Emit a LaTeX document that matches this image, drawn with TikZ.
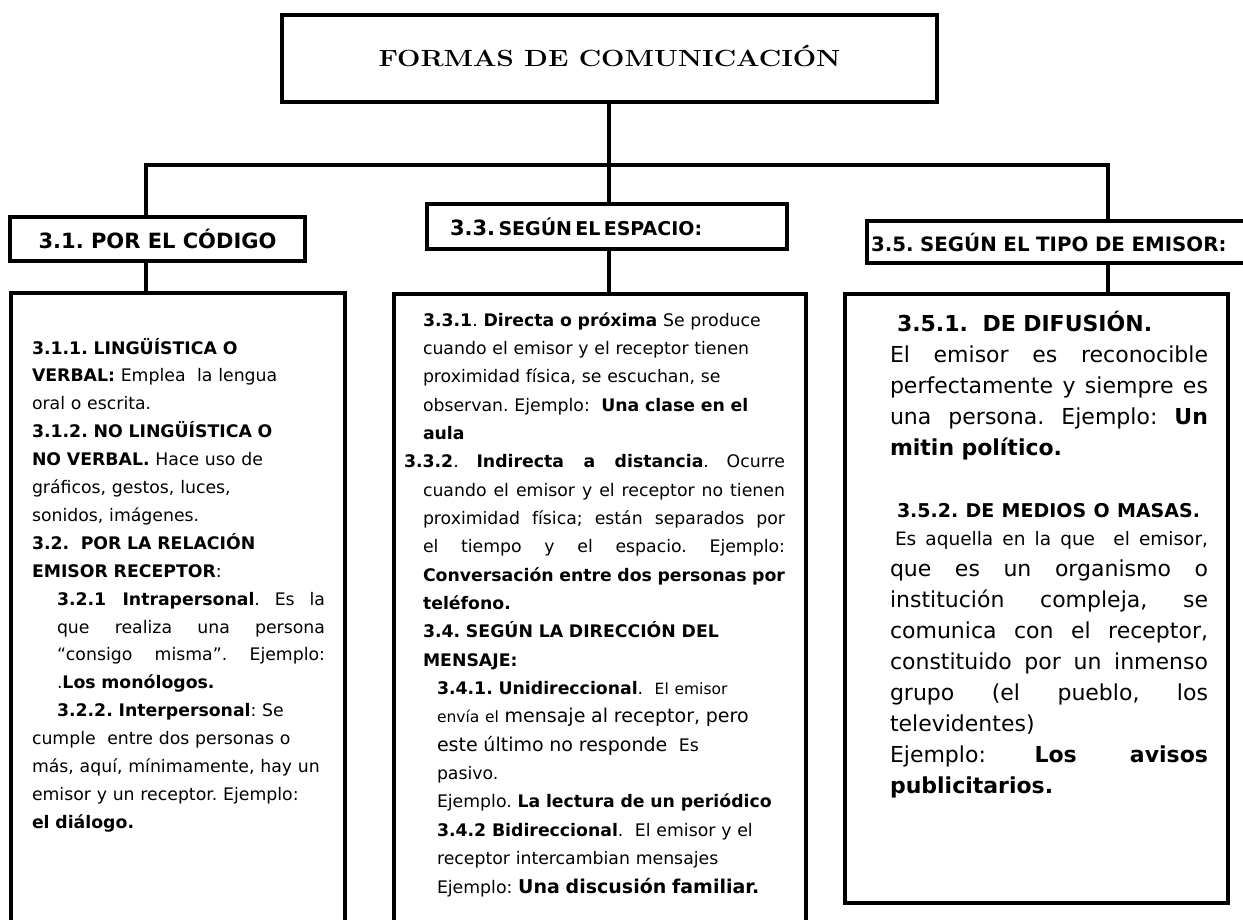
\documentclass[tikz,border=0pt]{standalone}
\usepackage{fontspec}
\usepackage{graphicx}
\newfontfamily\comic{DejaVu Sans}
\setlength{\parindent}{0pt}
\setlength{\parskip}{0pt}
\frenchspacing
\newcommand{\fsz}[1]{\fontsize{#1}{#1}\selectfont}
\newcommand{\jline}[2]{{\spaceskip=0pt\xspaceskip=0pt\makebox[#1][s]{#2}}}
\begin{document}
\begin{tikzpicture}[x=1pt,y=-1pt,
  boxs/.style={draw, line width=3.2pt, inner sep=0pt, outer sep=0pt, anchor=north west},
  bigbox/.style={draw, line width=3.5pt, inner sep=0pt, outer sep=0pt, anchor=north west},
  conn/.style={line width=3.2pt, line join=miter},
  txt/.style={anchor=north west, inner sep=0pt, outer sep=0pt, align=left},
]
\useasboundingbox (0,0) rectangle (1243,919);

% title
\node[boxs, minimum width=655pt, minimum height=87pt, font=\bfseries\fontsize{23.4}{28}\selectfont] (t) at (282,15)
  {\raisebox{6pt}{\scalebox{1.18}[1]{FORMAS DE COMUNICACIÓN}}};

% header boxes
\node[boxs, minimum width=295pt, minimum height=44pt, font=\comic\bfseries\fsz{21}] (h1) at (10,217)
  {3.1. POR EL CÓDIGO};
\node[boxs, minimum width=360pt, minimum height=45pt, text width=314pt, inner xsep=23pt, align=left, font=\comic\bfseries] (h3) at (427,204)
  {{\fsz{21}3.3.} {\fsz{19}SEGÚN EL ESPACIO:}};
\node[boxs, minimum width=383pt, minimum height=42pt, text width=375pt, inner xsep=4pt, align=left, font=\comic\bfseries\fsz{19.8}] (h5) at (867,221)
  {3.5. SEGÚN EL TIPO DE EMISOR:};

% big boxes
\node[bigbox, minimum width=334pt, minimum height=660pt] (b1) at (11,293) {};
\node[bigbox, minimum width=412pt, minimum height=660pt] (b3) at (394,294) {};
\node[bigbox, minimum width=383pt, minimum height=609pt] (b5) at (845,294) {};

% connectors
\coordinate (jl) at (146,165);
\coordinate (jm) at (609,165);
\coordinate (jr) at (1108,165);
\draw[conn] (jm |- t.south) -- (jm);
\draw[conn] (jl |- h1.north) -- (jl) -- (jr) -- (jr |- h5.north);
\draw[conn] (jm) -- (jm |- h3.north);
\draw[conn] (jl |- h1.south) -- (jl |- b1.north);
\draw[conn] (jm |- h3.south) -- (jm |- b3.north);
\draw[conn] (jr |- h5.south) -- (jr |- b5.north);

% left column text
\node[txt, text width=300pt, font=\comic\fontsize{17.3}{27.9}\selectfont] (x1) at (32,334) {%
\rule{0pt}{20pt}\textbf{3.1.1. LINGÜÍSTICA O}\\
\textbf{VERBAL:} Emplea\ \ la lengua\\
oral o escrita.\\
\textbf{3.1.2. NO LINGÜÍSTICA O}\\
\textbf{NO VERBAL.} Hace uso de\\
gráficos, gestos, luces,\\
sonidos, imágenes.\\
\textbf{3.2.\ \ POR LA RELACIÓN}\\
\textbf{EMISOR RECEPTOR}:\\
\hspace*{25pt}\jline{268pt}{\textbf{3.2.1 Intrapersonal}. Es la}\\
\hspace*{25pt}\jline{268pt}{que realiza una persona}\\
\hspace*{25pt}\jline{268pt}{“consigo misma”. Ejemplo:}\\
\hspace*{25pt}.\textbf{Los monólogos.}\\
\hspace*{25pt}\textbf{3.2.2. Interpersonal}: Se\\
cumple\ \ entre dos personas o\\
más, aquí, mínimamente, hay un\\
emisor y un receptor. Ejemplo:\\
\textbf{el diálogo.}};

% middle column text
\node[txt, text width=362pt, font=\comic\fontsize{17.3}{28.35}\selectfont] (x3) at (423,306) {%
\rule{0pt}{20pt}\textbf{3.3.1}. \textbf{Directa o próxima} Se produce\\
cuando el emisor y el receptor tienen\\
proximidad física, se escuchan, se\\
observan. Ejemplo:\ \ \textbf{Una clase en el}\\
\textbf{aula}\\
\hspace*{-19pt}\jline{381pt}{\textbf{3.3.2}. \textbf{Indirecta a distancia}. Ocurre}\\
\jline{362pt}{cuando el emisor y el receptor no tienen}\\
\jline{362pt}{proximidad física; están separados por}\\
\jline{362pt}{el tiempo y el espacio. Ejemplo:}\\
\jline{362pt}{\textbf{Conversación entre dos personas por}}\\
\textbf{teléfono.}\\
\textbf{3.4. SEGÚN LA DIRECCIÓN DEL}\\
\textbf{MENSAJE:}\\
\hspace*{14pt}\textbf{3.4.1. Unidireccional}.\ \ {\fsz{15.5}El emisor}\\
\hspace*{14pt}{\fsz{15.5}envía el} {\fsz{19}mensaje al receptor, pero}\\
\hspace*{14pt}{\fsz{19}este último no responde}\ \ Es\\
\hspace*{14pt}pasivo.\\
\hspace*{14pt}Ejemplo. \textbf{La lectura de un periódico}\\
\hspace*{14pt}\textbf{3.4.2 Bidireccional}.\ \ El emisor y el\\
\hspace*{14pt}receptor intercambian mensajes\\
\hspace*{14pt}Ejemplo: {\fsz{19}\textbf{Una discusión familiar.}}};

% right column text
\node[txt, text width=318pt, font=\comic\fontsize{22}{31}\selectfont] (x5) at (890,307) {%
\rule{0pt}{24pt}\hspace*{7pt}\textbf{3.5.1.\ \ DE DIFUSIÓN.}\\
\jline{318pt}{El emisor es reconocible}\\
\jline{318pt}{perfectamente y siempre es}\\
\jline{318pt}{una persona. Ejemplo: \textbf{Un}}\\
\textbf{mitin político.}\\
\mbox{}\\
\hspace*{7pt}{\fsz{19}\textbf{3.5.2. DE MEDIOS O MASAS.}}\\[-3pt]
\hspace*{5pt}{\fsz{18.5}\jline{313pt}{Es aquella en la que\ \ el emisor,}}\\
\jline{318pt}{que es un organismo o}\\
\jline{318pt}{institución compleja, se}\\
\jline{318pt}{comunica con el receptor,}\\
\jline{318pt}{constituido por un inmenso}\\
\jline{318pt}{grupo (el pueblo, los}\\
televidentes)\\
\jline{318pt}{Ejemplo: \textbf{Los avisos}}\\
\textbf{publicitarios.}};
\end{tikzpicture}
\end{document}
